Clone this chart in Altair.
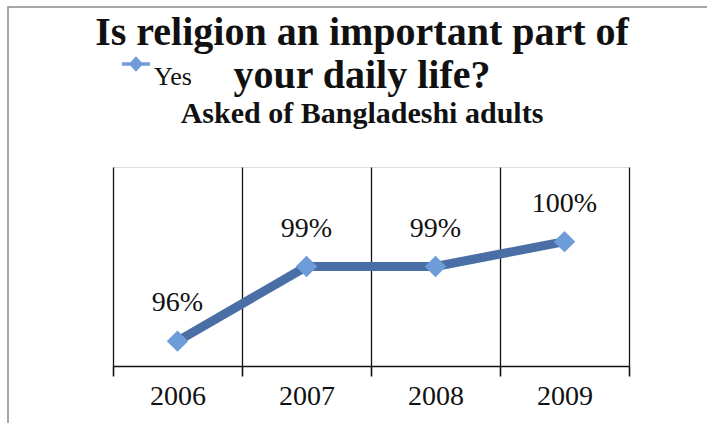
import altair as alt
import pandas as pd

years = ["2006", "2007", "2008", "2009"]
values = [96, 99, 99, 100]
labels = ["96%", "99%", "99%", "100%"]
series = ["Yes", "Yes", "Yes", "Yes"]

df = pd.DataFrame({"year": years, "value": values, "label": labels, "series": series})
frame_df = pd.DataFrame({"k": [0]})

W, H = 516, 199
SERIF = "Liberation Serif"

legend_path = ("M-1,-0.12 L-0.39,-0.12 L0,-0.55 L0.39,-0.12 L1,-0.12 L1,0.12 "
               "L0.39,0.12 L0,0.55 L-0.39,0.12 L-1,0.12 Z")

x_enc = alt.X(
    "year:N",
    sort=years,
    bandPosition=0.5,
    scale=alt.Scale(type="band", paddingInner=0, paddingOuter=0),
    axis=alt.Axis(
        title=None, labelAngle=0, tickBand="extent", grid=True,
        gridColor="#111111", gridWidth=1.3,
        domainColor="#111111", domainWidth=1.6,
        tickColor="#111111", tickWidth=1.6, tickSize=10,
        labelFont=SERIF, labelFontSize=28, labelColor="#111111",
        labelPadding=6,
    ),
)
y_enc = alt.Y("value:Q", scale=alt.Scale(domain=[95, 103], zero=False), axis=None)

frame = alt.Chart(frame_df).mark_rect(
    fill=None, stroke="#8a8a8a", strokeWidth=1.5, clip=False
).encode(
    x=alt.value(-105), x2=alt.value(607), y=alt.value(-160), y2=alt.value(273)
)

base = alt.Chart(df)

line = base.mark_line(color="#4A6FA6", strokeWidth=9).encode(x=x_enc, y=y_enc)

points = base.mark_point(filled=True, shape="diamond", size=460, opacity=1).encode(
    x=x_enc,
    y=y_enc,
    color=alt.Color(
        "series:N",
        scale=alt.Scale(range=["#6E9CD8"]),
        legend=alt.Legend(
            title=None, orient="none", legendX=9, legendY=-117, padding=0,
            symbolType=legend_path, symbolSize=784, symbolStrokeWidth=0,
            labelFont=SERIF, labelFontSize=26, labelColor="#111111",
            labelBaseline="top", labelOffset=4,
        ),
    ),
)

text = base.mark_text(dy=-38, font=SERIF, fontSize=28, color="#111111").encode(
    x=x_enc, y=y_enc, text="label:N"
)

chart = alt.layer(frame, line, points, text).properties(
    width=W,
    height=H,
    autosize=alt.AutoSizeParams(type="none"),
    padding={"left": 113, "top": 167, "right": 78, "bottom": 57},
    title=alt.TitleParams(
        text=["Is religion an important part of", "your daily life?"],
        subtitle="Asked of Bangladeshi adults",
        font=SERIF, fontSize=40, fontWeight="bold", color="#111111",
        lineHeight=43,
        subtitleFont=SERIF, subtitleFontSize=30, subtitleFontWeight="bold",
        subtitleColor="#111111", subtitlePadding=3,
        anchor="middle", dx=-9, offset=-123,
    ),
).configure_view(stroke="#bdbdbd", strokeWidth=1.2).configure(background="white")

chart.save("out.html", embed_options={"renderer": "svg", "actions": False})
